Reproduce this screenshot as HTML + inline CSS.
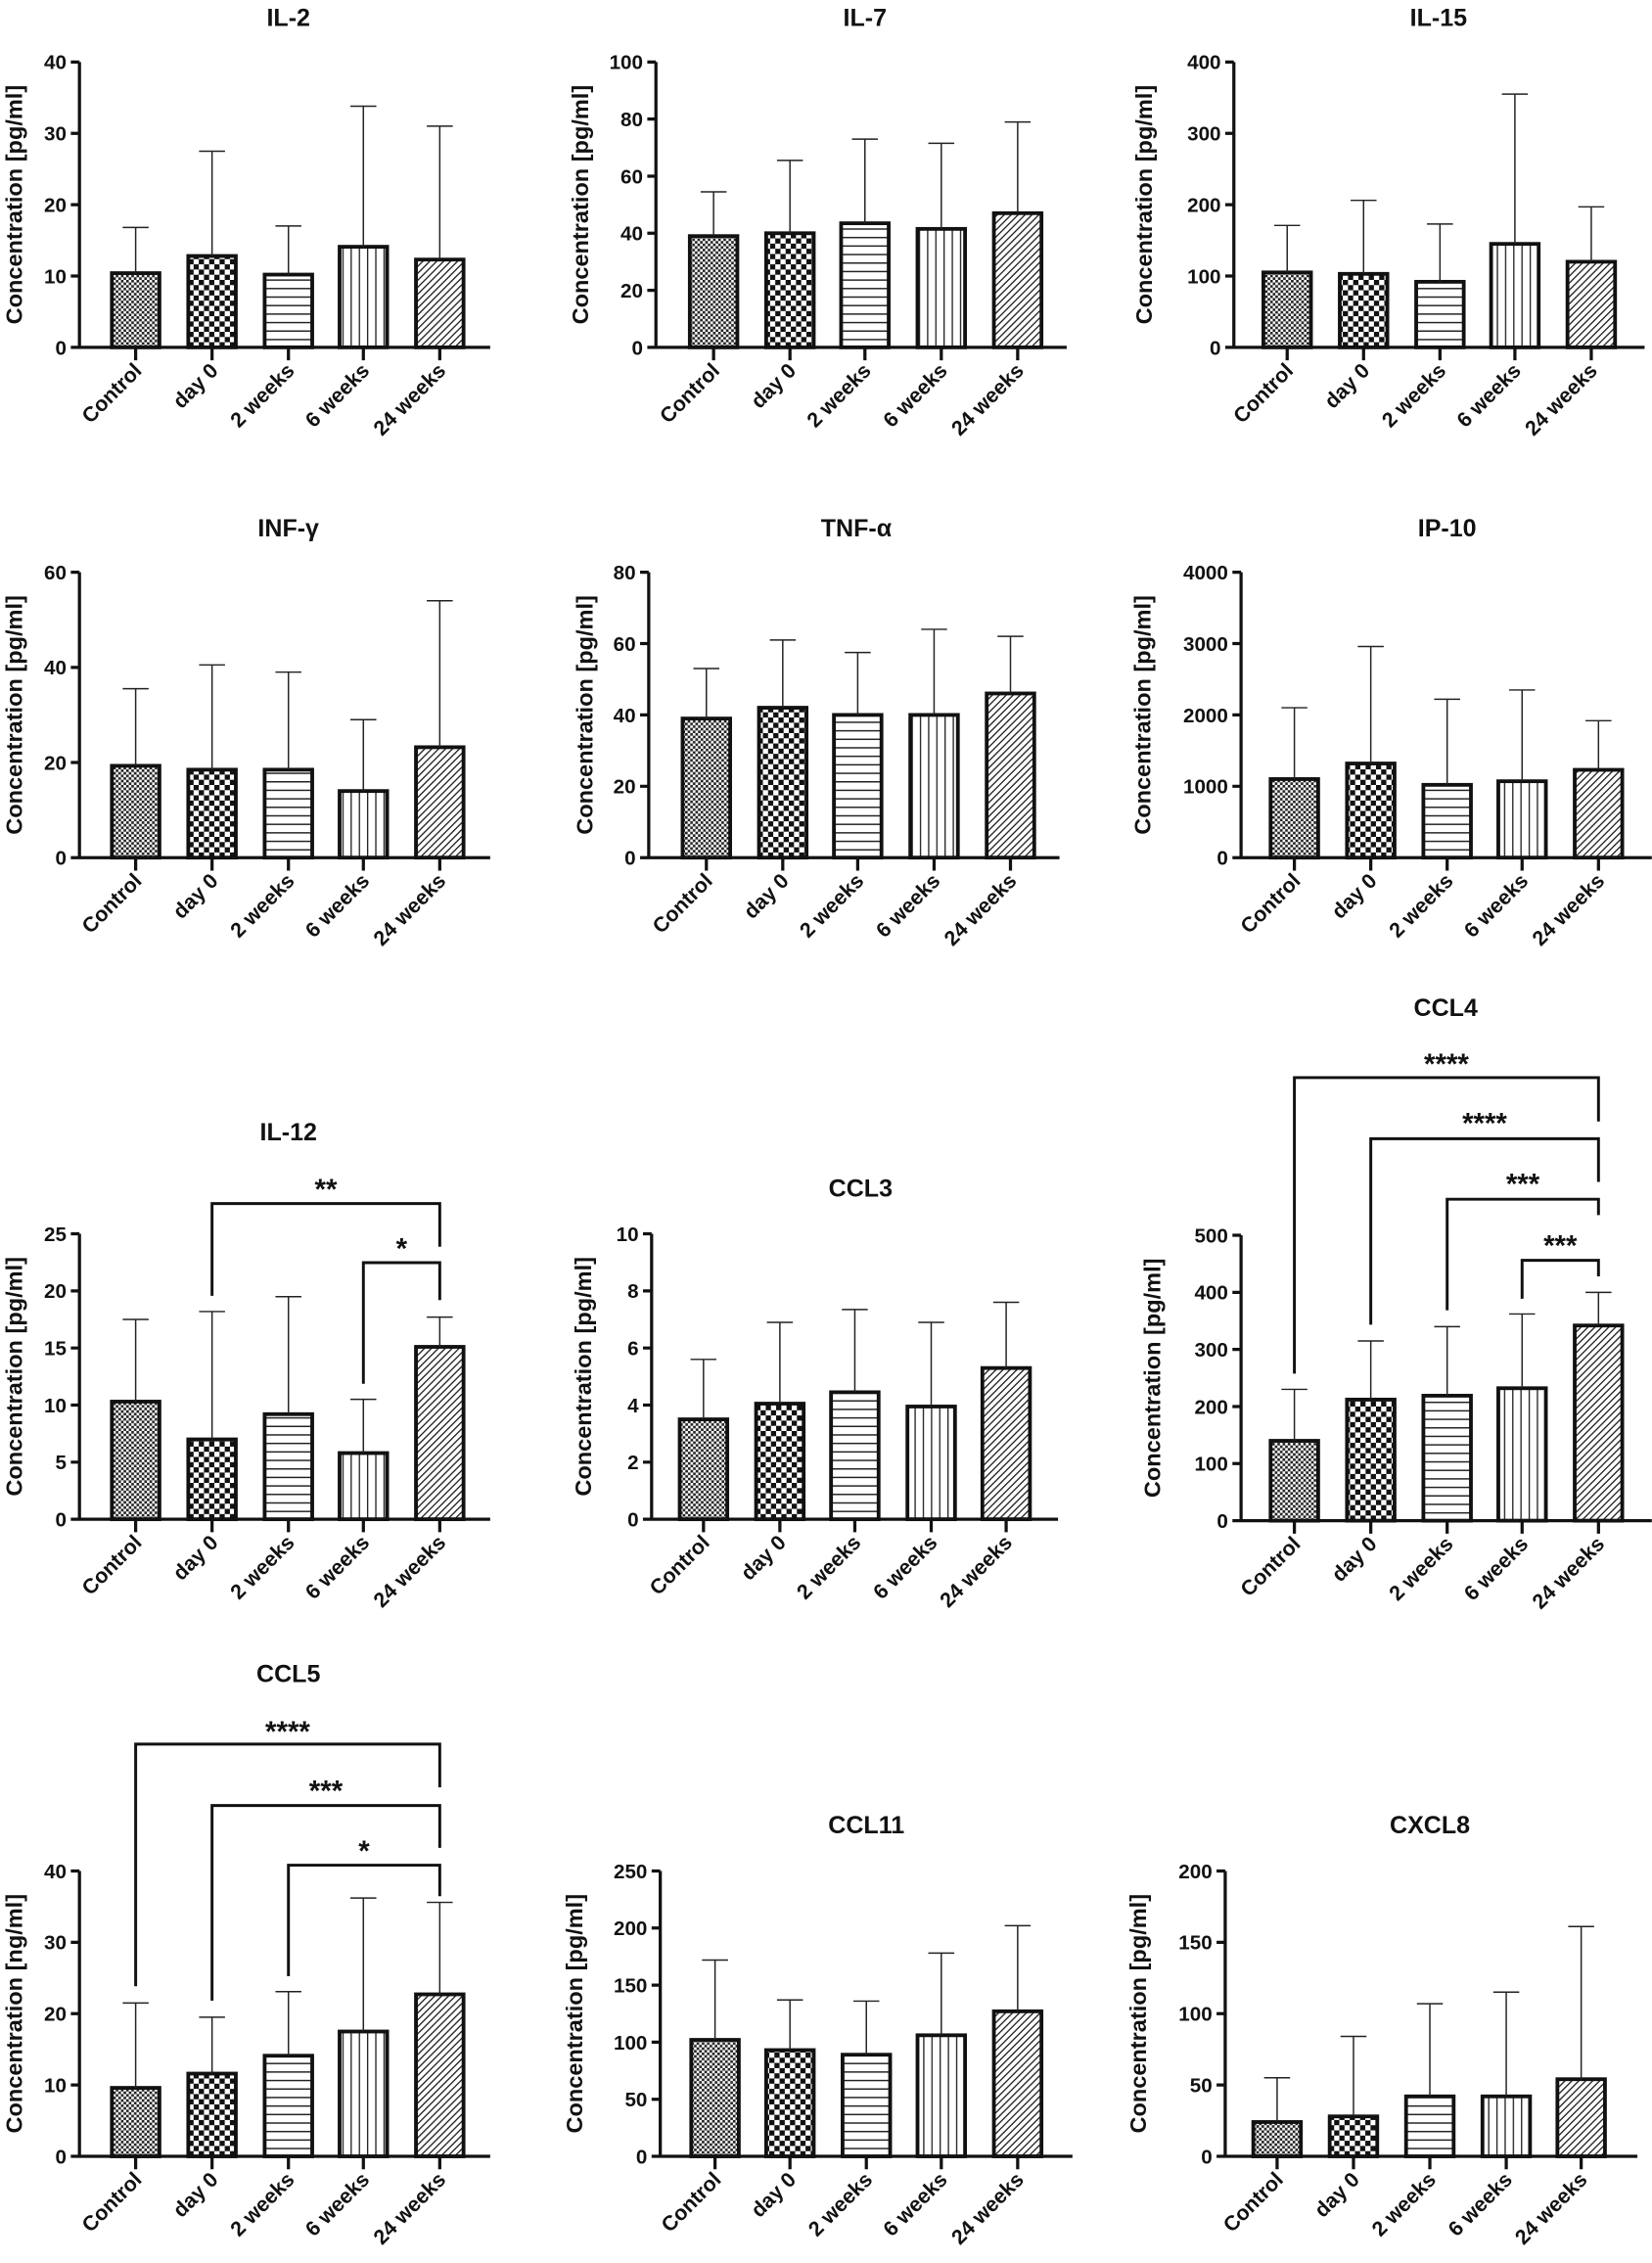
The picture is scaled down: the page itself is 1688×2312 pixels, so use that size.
<!DOCTYPE html>
<html><head><meta charset="utf-8"><style>
html,body{margin:0;padding:0;background:#fff}
svg{display:block}
text{font-family:"Liberation Sans",Arial,sans-serif;font-weight:bold;fill:#111}
.t{font-size:17px;text-anchor:middle}
.k{font-size:14px;text-anchor:end}
.yl{font-size:16px;text-anchor:middle}
.xl{font-size:14.5px;text-anchor:end}
.s{font-size:20px;text-anchor:middle}
.ax{stroke:#111;stroke-width:2.2;fill:none}
.b{stroke:#111;stroke-width:2.6}
.e{stroke:#222;stroke-width:1;fill:none}
.br{stroke:#111;stroke-width:2;fill:none}
</style></head><body>
<svg width="1688" height="2312" viewBox="0 0 1146 1570" xmlns="http://www.w3.org/2000/svg">
<defs>
<pattern id="p0" width="3.6" height="3.6" patternUnits="userSpaceOnUse"><rect width="3.6" height="3.6" fill="#fff"/><rect width="1.8" height="1.8" fill="#222"/><rect x="1.8" y="1.8" width="1.8" height="1.8" fill="#222"/></pattern>
<pattern id="p1" width="7.2" height="7.2" patternUnits="userSpaceOnUse"><rect width="7.2" height="7.2" fill="#fff"/><rect width="3.6" height="3.6" fill="#111"/><rect x="3.6" y="3.6" width="3.6" height="3.6" fill="#111"/></pattern>
<pattern id="p2" width="10" height="5.9" patternUnits="userSpaceOnUse"><rect width="10" height="5.9" fill="#fff"/><rect y="0" width="10" height="1" fill="#222"/></pattern>
<pattern id="p3" width="5.7" height="10" patternUnits="userSpaceOnUse"><rect width="5.7" height="10" fill="#fff"/><rect x="0" width="0.9" height="10" fill="#222"/></pattern>
<pattern id="p4" width="3.4" height="3.4" patternUnits="userSpaceOnUse" patternTransform="rotate(45)"><rect width="3.4" height="3.4" fill="#fff"/><rect width="0.9" height="3.4" fill="#222"/></pattern>
</defs>

<!-- ========== IL-2 ========== -->
<text class="t" x="200" y="18">IL-2</text>
<g transform="translate(55,241)">
<rect class="b" fill="url(#p0)" x="22.5" y="-51.5" width="33" height="51.5"/>
<rect class="b" fill="url(#p1)" x="75.5" y="-63.4" width="33" height="63.4"/>
<rect class="b" fill="url(#p2)" x="128.5" y="-50.5" width="33" height="50.5"/>
<rect class="b" fill="url(#p3)" x="180.5" y="-69.8" width="33" height="69.8"/>
<rect class="b" fill="url(#p4)" x="233.5" y="-60.9" width="33" height="60.9"/>
<path class="e" d="M39,-51.5V-83.2M30,-83.2H48M92,-63.4V-136.1M83,-136.1H101M145,-50.5V-84.2M136,-84.2H154M197,-69.8V-167.3M188,-167.3H206M250,-60.9V-153.5M241,-153.5H259"/>
<path class="ax" d="M0,-198V0H285M-6,0H0M-6,-49.5H0M-6,-99H0M-6,-148.5H0M-6,-198H0M39,0v9M92,0v9M145,0v9M197,0v9M250,0v9"/>
<text class="k" x="-9" y="5">0</text><text class="k" x="-9" y="-44.5">10</text><text class="k" x="-9" y="-94">20</text><text class="k" x="-9" y="-143.5">30</text><text class="k" x="-9" y="-193">40</text>
<text class="yl" transform="translate(-40,-99) rotate(-90)">Concentration [pg/ml]</text>
<text class="xl" transform="translate(44,17) rotate(-45)">Control</text><text class="xl" transform="translate(97,17) rotate(-45)">day 0</text><text class="xl" transform="translate(150,17) rotate(-45)">2 weeks</text><text class="xl" transform="translate(202,17) rotate(-45)">6 weeks</text><text class="xl" transform="translate(255,17) rotate(-45)">24 weeks</text>
</g>

<!-- ========== IL-7 ========== -->
<text class="t" x="600" y="18">IL-7</text>
<g transform="translate(455,241)">
<rect class="b" fill="url(#p0)" x="23.5" y="-77.2" width="33" height="77.2"/>
<rect class="b" fill="url(#p1)" x="76.5" y="-79.2" width="33" height="79.2"/>
<rect class="b" fill="url(#p2)" x="128.5" y="-86.1" width="33" height="86.1"/>
<rect class="b" fill="url(#p3)" x="181.5" y="-82.2" width="33" height="82.2"/>
<rect class="b" fill="url(#p4)" x="234.5" y="-93.1" width="33" height="93.1"/>
<path class="e" d="M40,-77.2V-107.9M31,-107.9H49M93,-79.2V-129.7M84,-129.7H102M145,-86.1V-144.5M136,-144.5H154M198,-82.2V-141.6M189,-141.6H207M251,-93.1V-156.4M242,-156.4H260"/>
<path class="ax" d="M0,-198V0H285M-6,0H0M-6,-39.6H0M-6,-79.2H0M-6,-118.8H0M-6,-158.4H0M-6,-198H0M40,0v9M93,0v9M145,0v9M198,0v9M251,0v9"/>
<text class="k" x="-9" y="5">0</text><text class="k" x="-9" y="-34.6">20</text><text class="k" x="-9" y="-74.2">40</text><text class="k" x="-9" y="-113.8">60</text><text class="k" x="-9" y="-153.4">80</text><text class="k" x="-9" y="-193">100</text>
<text class="yl" transform="translate(-47,-99) rotate(-90)">Concentration [pg/ml]</text>
<text class="xl" transform="translate(45,17) rotate(-45)">Control</text><text class="xl" transform="translate(98,17) rotate(-45)">day 0</text><text class="xl" transform="translate(150,17) rotate(-45)">2 weeks</text><text class="xl" transform="translate(203,17) rotate(-45)">6 weeks</text><text class="xl" transform="translate(256,17) rotate(-45)">24 weeks</text>
</g>

<!-- ========== IL-15 ========== -->
<text class="t" x="998" y="18">IL-15</text>
<g transform="translate(856,241)">
<rect class="b" fill="url(#p0)" x="20.5" y="-52" width="33" height="52"/>
<rect class="b" fill="url(#p1)" x="73.5" y="-51" width="33" height="51"/>
<rect class="b" fill="url(#p2)" x="126.5" y="-45.5" width="33" height="45.5"/>
<rect class="b" fill="url(#p3)" x="178.5" y="-71.8" width="33" height="71.8"/>
<rect class="b" fill="url(#p4)" x="231.5" y="-59.4" width="33" height="59.4"/>
<path class="e" d="M37,-52V-84.6M28,-84.6H46M90,-51V-102M81,-102H99M143,-45.5V-85.6M134,-85.6H152M195,-71.8V-175.7M186,-175.7H204M248,-59.4V-97.5M239,-97.5H257"/>
<path class="ax" d="M0,-198V0H285M-6,0H0M-6,-49.5H0M-6,-99H0M-6,-148.5H0M-6,-198H0M37,0v9M90,0v9M143,0v9M195,0v9M248,0v9"/>
<text class="k" x="-9" y="5">0</text><text class="k" x="-9" y="-44.5">100</text><text class="k" x="-9" y="-94">200</text><text class="k" x="-9" y="-143.5">300</text><text class="k" x="-9" y="-193">400</text>
<text class="yl" transform="translate(-57,-99) rotate(-90)">Concentration [pg/ml]</text>
<text class="xl" transform="translate(42,17) rotate(-45)">Control</text><text class="xl" transform="translate(95,17) rotate(-45)">day 0</text><text class="xl" transform="translate(148,17) rotate(-45)">2 weeks</text><text class="xl" transform="translate(200,17) rotate(-45)">6 weeks</text><text class="xl" transform="translate(253,17) rotate(-45)">24 weeks</text>
</g>

<!-- ========== INF-γ ========== -->
<text class="t" x="200" y="372">INF-γ</text>
<g transform="translate(55,595)">
<rect class="b" fill="url(#p0)" x="22.5" y="-63.7" width="33" height="63.7"/>
<rect class="b" fill="url(#p1)" x="75.5" y="-61" width="33" height="61"/>
<rect class="b" fill="url(#p2)" x="128.5" y="-61" width="33" height="61"/>
<rect class="b" fill="url(#p3)" x="180.5" y="-46.2" width="33" height="46.2"/>
<rect class="b" fill="url(#p4)" x="233.5" y="-76.6" width="33" height="76.6"/>
<path class="e" d="M39,-63.7V-117.2M30,-117.2H48M92,-61V-133.7M83,-133.7H101M145,-61V-128.7M136,-128.7H154M197,-46.2V-95.7M188,-95.7H206M250,-76.6V-178.2M241,-178.2H259"/>
<path class="ax" d="M0,-198V0H285M-6,0H0M-6,-66H0M-6,-132H0M-6,-198H0M39,0v9M92,0v9M145,0v9M197,0v9M250,0v9"/>
<text class="k" x="-9" y="5">0</text><text class="k" x="-9" y="-61">20</text><text class="k" x="-9" y="-127">40</text><text class="k" x="-9" y="-193">60</text>
<text class="yl" transform="translate(-40,-99) rotate(-90)">Concentration [pg/ml]</text>
<text class="xl" transform="translate(44,17) rotate(-45)">Control</text><text class="xl" transform="translate(97,17) rotate(-45)">day 0</text><text class="xl" transform="translate(150,17) rotate(-45)">2 weeks</text><text class="xl" transform="translate(202,17) rotate(-45)">6 weeks</text><text class="xl" transform="translate(255,17) rotate(-45)">24 weeks</text>
</g>

<!-- ========== TNF-α ========== -->
<text class="t" x="594" y="372">TNF-α</text>
<g transform="translate(450,595)">
<rect class="b" fill="url(#p0)" x="23.5" y="-96.5" width="33" height="96.5"/>
<rect class="b" fill="url(#p1)" x="76.5" y="-104" width="33" height="104"/>
<rect class="b" fill="url(#p2)" x="128.5" y="-99" width="33" height="99"/>
<rect class="b" fill="url(#p3)" x="181.5" y="-99" width="33" height="99"/>
<rect class="b" fill="url(#p4)" x="234.5" y="-113.9" width="33" height="113.9"/>
<path class="e" d="M40,-96.5V-131.2M31,-131.2H49M93,-104V-151M84,-151H102M145,-99V-142.3M136,-142.3H154M198,-99V-158.4M189,-158.4H207M251,-113.9V-153.5M242,-153.5H260"/>
<path class="ax" d="M0,-198V0H285M-6,0H0M-6,-49.5H0M-6,-99H0M-6,-148.5H0M-6,-198H0M40,0v9M93,0v9M145,0v9M198,0v9M251,0v9"/>
<text class="k" x="-9" y="5">0</text><text class="k" x="-9" y="-44.5">20</text><text class="k" x="-9" y="-94">40</text><text class="k" x="-9" y="-143.5">60</text><text class="k" x="-9" y="-193">80</text>
<text class="yl" transform="translate(-39,-99) rotate(-90)">Concentration [pg/ml]</text>
<text class="xl" transform="translate(45,17) rotate(-45)">Control</text><text class="xl" transform="translate(98,17) rotate(-45)">day 0</text><text class="xl" transform="translate(150,17) rotate(-45)">2 weeks</text><text class="xl" transform="translate(203,17) rotate(-45)">6 weeks</text><text class="xl" transform="translate(256,17) rotate(-45)">24 weeks</text>
</g>

<!-- ========== IP-10 ========== -->
<text class="t" x="1004" y="372">IP-10</text>
<g transform="translate(861,595)">
<rect class="b" fill="url(#p0)" x="20.5" y="-54.5" width="33" height="54.5"/>
<rect class="b" fill="url(#p1)" x="73.5" y="-65.3" width="33" height="65.3"/>
<rect class="b" fill="url(#p2)" x="126.5" y="-50.5" width="33" height="50.5"/>
<rect class="b" fill="url(#p3)" x="178.5" y="-53" width="33" height="53"/>
<rect class="b" fill="url(#p4)" x="231.5" y="-60.9" width="33" height="60.9"/>
<path class="e" d="M37,-54.5V-104M28,-104H46M90,-65.3V-146.5M81,-146.5H99M143,-50.5V-109.9M134,-109.9H152M195,-53V-116.3M186,-116.3H204M248,-60.9V-95M239,-95H257"/>
<path class="ax" d="M0,-198V0H285M-6,0H0M-6,-49.5H0M-6,-99H0M-6,-148.5H0M-6,-198H0M37,0v9M90,0v9M143,0v9M195,0v9M248,0v9"/>
<text class="k" x="-9" y="5">0</text><text class="k" x="-9" y="-44.5">1000</text><text class="k" x="-9" y="-94">2000</text><text class="k" x="-9" y="-143.5">3000</text><text class="k" x="-9" y="-193">4000</text>
<text class="yl" transform="translate(-63,-99) rotate(-90)">Concentration [pg/ml]</text>
<text class="xl" transform="translate(42,17) rotate(-45)">Control</text><text class="xl" transform="translate(95,17) rotate(-45)">day 0</text><text class="xl" transform="translate(148,17) rotate(-45)">2 weeks</text><text class="xl" transform="translate(200,17) rotate(-45)">6 weeks</text><text class="xl" transform="translate(253,17) rotate(-45)">24 weeks</text>
</g>

<!-- ========== IL-12 ========== -->
<text class="t" x="200" y="791">IL-12</text>
<text class="s" x="226" y="832">**</text>
<text class="s" x="278.5" y="873">*</text>
<path class="br" d="M147,899V835H305V865M252,960V876H305V902"/>
<g transform="translate(55,1054)">
<rect class="b" fill="url(#p0)" x="22.5" y="-81.6" width="33" height="81.6"/>
<rect class="b" fill="url(#p1)" x="75.5" y="-55.4" width="33" height="55.4"/>
<rect class="b" fill="url(#p2)" x="128.5" y="-72.9" width="33" height="72.9"/>
<rect class="b" fill="url(#p3)" x="180.5" y="-45.9" width="33" height="45.9"/>
<rect class="b" fill="url(#p4)" x="233.5" y="-119.6" width="33" height="119.6"/>
<path class="e" d="M39,-81.6V-138.6M30,-138.6H48M92,-55.4V-144.1M83,-144.1H101M145,-72.9V-154.4M136,-154.4H154M197,-45.9V-83.2M188,-83.2H206M250,-119.6V-140.2M241,-140.2H259"/>
<path class="ax" d="M0,-198V0H285M-6,0H0M-6,-39.6H0M-6,-79.2H0M-6,-118.8H0M-6,-158.4H0M-6,-198H0M39,0v9M92,0v9M145,0v9M197,0v9M250,0v9"/>
<text class="k" x="-9" y="5">0</text><text class="k" x="-9" y="-34.6">5</text><text class="k" x="-9" y="-74.2">10</text><text class="k" x="-9" y="-113.8">15</text><text class="k" x="-9" y="-153.4">20</text><text class="k" x="-9" y="-193">25</text>
<text class="yl" transform="translate(-40,-99) rotate(-90)">Concentration [pg/ml]</text>
<text class="xl" transform="translate(44,17) rotate(-45)">Control</text><text class="xl" transform="translate(97,17) rotate(-45)">day 0</text><text class="xl" transform="translate(150,17) rotate(-45)">2 weeks</text><text class="xl" transform="translate(202,17) rotate(-45)">6 weeks</text><text class="xl" transform="translate(255,17) rotate(-45)">24 weeks</text>
</g>

<!-- ========== CCL3 ========== -->
<text class="t" x="597" y="830">CCL3</text>
<g transform="translate(452,1054)">
<rect class="b" fill="url(#p0)" x="19.5" y="-69.3" width="33" height="69.3"/>
<rect class="b" fill="url(#p1)" x="72.5" y="-80.2" width="33" height="80.2"/>
<rect class="b" fill="url(#p2)" x="124.5" y="-88.1" width="33" height="88.1"/>
<rect class="b" fill="url(#p3)" x="177.5" y="-78.2" width="33" height="78.2"/>
<rect class="b" fill="url(#p4)" x="229.5" y="-104.9" width="33" height="104.9"/>
<path class="e" d="M36,-69.3V-110.9M27,-110.9H45M89,-80.2V-136.6M80,-136.6H98M141,-88.1V-145.5M132,-145.5H150M194,-78.2V-136.6M185,-136.6H203M246,-104.9V-150.5M237,-150.5H255"/>
<path class="ax" d="M0,-198V0H282M-6,0H0M-6,-39.6H0M-6,-79.2H0M-6,-118.8H0M-6,-158.4H0M-6,-198H0M36,0v9M89,0v9M141,0v9M194,0v9M246,0v9"/>
<text class="k" x="-9" y="5">0</text><text class="k" x="-9" y="-34.6">2</text><text class="k" x="-9" y="-74.2">4</text><text class="k" x="-9" y="-113.8">6</text><text class="k" x="-9" y="-153.4">8</text><text class="k" x="-9" y="-193">10</text>
<text class="yl" transform="translate(-42,-99) rotate(-90)">Concentration [pg/ml]</text>
<text class="xl" transform="translate(41,17) rotate(-45)">Control</text><text class="xl" transform="translate(94,17) rotate(-45)">day 0</text><text class="xl" transform="translate(146,17) rotate(-45)">2 weeks</text><text class="xl" transform="translate(199,17) rotate(-45)">6 weeks</text><text class="xl" transform="translate(251,17) rotate(-45)">24 weeks</text>
</g>

<!-- ========== CCL4 ========== -->
<text class="t" x="1003" y="705">CCL4</text>
<text class="s" x="1003.5" y="745">****</text>
<text class="s" x="1030" y="786">****</text>
<text class="s" x="1056.5" y="828">***</text>
<text class="s" x="1082.5" y="871">***</text>
<path class="br" d="M898,953V747.6H1109V778M951,919V790H1109V820M1004,909V832H1109V843M1056,901V874.4H1109V885.5"/>
<g transform="translate(861,1055)">
<rect class="b" fill="url(#p0)" x="20.5" y="-55.4" width="33" height="55.4"/>
<rect class="b" fill="url(#p1)" x="73.5" y="-84" width="33" height="84"/>
<rect class="b" fill="url(#p2)" x="126.5" y="-86.7" width="33" height="86.7"/>
<rect class="b" fill="url(#p3)" x="178.5" y="-91.9" width="33" height="91.9"/>
<rect class="b" fill="url(#p4)" x="231.5" y="-135.4" width="33" height="135.4"/>
<path class="e" d="M37,-55.4V-91.1M28,-91.1H46M90,-84V-124.7M81,-124.7H99M143,-86.7V-134.6M134,-134.6H152M195,-91.9V-143.4M186,-143.4H204M248,-135.4V-158.4M239,-158.4H257"/>
<path class="ax" d="M0,-198V0H285M-6,0H0M-6,-39.6H0M-6,-79.2H0M-6,-118.8H0M-6,-158.4H0M-6,-198H0M37,0v9M90,0v9M143,0v9M195,0v9M248,0v9"/>
<text class="k" x="-9" y="5">0</text><text class="k" x="-9" y="-34.6">100</text><text class="k" x="-9" y="-74.2">200</text><text class="k" x="-9" y="-113.8">300</text><text class="k" x="-9" y="-153.4">400</text><text class="k" x="-9" y="-193">500</text>
<text class="yl" transform="translate(-56,-99) rotate(-90)">Concentration [pg/ml]</text>
<text class="xl" transform="translate(42,17) rotate(-45)">Control</text><text class="xl" transform="translate(95,17) rotate(-45)">day 0</text><text class="xl" transform="translate(148,17) rotate(-45)">2 weeks</text><text class="xl" transform="translate(200,17) rotate(-45)">6 weeks</text><text class="xl" transform="translate(253,17) rotate(-45)">24 weeks</text>
</g>

<!-- ========== CCL5 ========== -->
<text class="t" x="200" y="1167">CCL5</text>
<text class="s" x="199.5" y="1208">****</text>
<text class="s" x="226" y="1249">***</text>
<text class="s" x="252.5" y="1291">*</text>
<path class="br" d="M94,1378V1210H305V1240M147,1388V1252.6H305V1282M200,1371V1294H305V1315.5"/>
<g transform="translate(55,1496)">
<rect class="b" fill="url(#p0)" x="22.5" y="-47.5" width="33" height="47.5"/>
<rect class="b" fill="url(#p1)" x="75.5" y="-57.4" width="33" height="57.4"/>
<rect class="b" fill="url(#p2)" x="128.5" y="-69.8" width="33" height="69.8"/>
<rect class="b" fill="url(#p3)" x="180.5" y="-86.6" width="33" height="86.6"/>
<rect class="b" fill="url(#p4)" x="233.5" y="-112.4" width="33" height="112.4"/>
<path class="e" d="M39,-47.5V-106.4M30,-106.4H48M92,-57.4V-96.5M83,-96.5H101M145,-69.8V-114.3M136,-114.3H154M197,-86.6V-179.2M188,-179.2H206M250,-112.4V-176.2M241,-176.2H259"/>
<path class="ax" d="M0,-198V0H285M-6,0H0M-6,-49.5H0M-6,-99H0M-6,-148.5H0M-6,-198H0M39,0v9M92,0v9M145,0v9M197,0v9M250,0v9"/>
<text class="k" x="-9" y="5">0</text><text class="k" x="-9" y="-44.5">10</text><text class="k" x="-9" y="-94">20</text><text class="k" x="-9" y="-143.5">30</text><text class="k" x="-9" y="-193">40</text>
<text class="yl" transform="translate(-40,-99) rotate(-90)">Concentration [ng/ml]</text>
<text class="xl" transform="translate(44,17) rotate(-45)">Control</text><text class="xl" transform="translate(97,17) rotate(-45)">day 0</text><text class="xl" transform="translate(150,17) rotate(-45)">2 weeks</text><text class="xl" transform="translate(202,17) rotate(-45)">6 weeks</text><text class="xl" transform="translate(255,17) rotate(-45)">24 weeks</text>
</g>

<!-- ========== CCL11 ========== -->
<text class="t" x="601" y="1272">CCL11</text>
<g transform="translate(458,1496)">
<rect class="b" fill="url(#p0)" x="21.5" y="-80.8" width="33" height="80.8"/>
<rect class="b" fill="url(#p1)" x="73.5" y="-73.7" width="33" height="73.7"/>
<rect class="b" fill="url(#p2)" x="126.5" y="-70.5" width="33" height="70.5"/>
<rect class="b" fill="url(#p3)" x="178.5" y="-84" width="33" height="84"/>
<rect class="b" fill="url(#p4)" x="231.5" y="-100.6" width="33" height="100.6"/>
<path class="e" d="M38,-80.8V-136.2M29,-136.2H47M90,-73.7V-108.5M81,-108.5H99M143,-70.5V-107.7M134,-107.7H152M195,-84V-141M186,-141H204M248,-100.6V-160M239,-160H257"/>
<path class="ax" d="M0,-198V0H286M-6,0H0M-6,-39.6H0M-6,-79.2H0M-6,-118.8H0M-6,-158.4H0M-6,-198H0M38,0v9M90,0v9M143,0v9M195,0v9M248,0v9"/>
<text class="k" x="-9" y="5">0</text><text class="k" x="-9" y="-34.6">50</text><text class="k" x="-9" y="-74.2">100</text><text class="k" x="-9" y="-113.8">150</text><text class="k" x="-9" y="-153.4">200</text><text class="k" x="-9" y="-193">250</text>
<text class="yl" transform="translate(-54,-99) rotate(-90)">Concentration [pg/ml]</text>
<text class="xl" transform="translate(43,17) rotate(-45)">Control</text><text class="xl" transform="translate(95,17) rotate(-45)">day 0</text><text class="xl" transform="translate(148,17) rotate(-45)">2 weeks</text><text class="xl" transform="translate(200,17) rotate(-45)">6 weeks</text><text class="xl" transform="translate(253,17) rotate(-45)">24 weeks</text>
</g>

<!-- ========== CXCL8 ========== -->
<text class="t" x="992" y="1272">CXCL8</text>
<g transform="translate(850,1496)">
<rect class="b" fill="url(#p0)" x="19.5" y="-23.8" width="33" height="23.8"/>
<rect class="b" fill="url(#p1)" x="72.5" y="-27.7" width="33" height="27.7"/>
<rect class="b" fill="url(#p2)" x="125.5" y="-41.6" width="33" height="41.6"/>
<rect class="b" fill="url(#p3)" x="178.5" y="-41.6" width="33" height="41.6"/>
<rect class="b" fill="url(#p4)" x="230.5" y="-53.5" width="33" height="53.5"/>
<path class="e" d="M36,-23.8V-54.5M27,-54.5H45M89,-27.7V-83.2M80,-83.2H98M142,-41.6V-105.9M133,-105.9H151M195,-41.6V-113.9M186,-113.9H204M247,-53.5V-159.4M238,-159.4H256"/>
<path class="ax" d="M0,-198V0H286M-6,0H0M-6,-49.5H0M-6,-99H0M-6,-148.5H0M-6,-198H0M36,0v9M89,0v9M142,0v9M195,0v9M247,0v9"/>
<text class="k" x="-9" y="5">0</text><text class="k" x="-9" y="-44.5">50</text><text class="k" x="-9" y="-94">100</text><text class="k" x="-9" y="-143.5">150</text><text class="k" x="-9" y="-193">200</text>
<text class="yl" transform="translate(-55,-99) rotate(-90)">Concentration [pg/ml]</text>
<text class="xl" transform="translate(41,17) rotate(-45)">Control</text><text class="xl" transform="translate(94,17) rotate(-45)">day 0</text><text class="xl" transform="translate(147,17) rotate(-45)">2 weeks</text><text class="xl" transform="translate(200,17) rotate(-45)">6 weeks</text><text class="xl" transform="translate(252,17) rotate(-45)">24 weeks</text>
</g>
</svg>
</body></html>
